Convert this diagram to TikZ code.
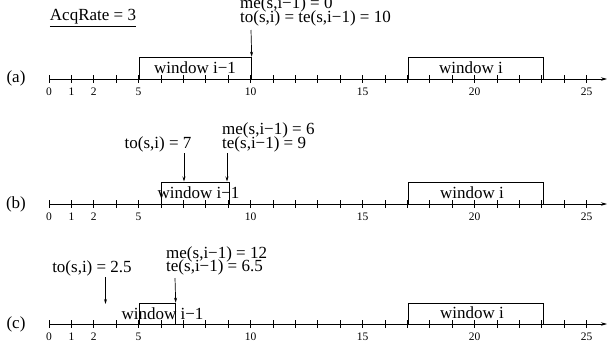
\documentclass[tikz,border=0pt]{standalone}
\usepackage{fontspec}
\setmainfont{Liberation Serif}
\usetikzlibrary{arrows.meta}
\tikzset{
  txt/.style={inner sep=0pt, font=\fontsize{17}{19}\selectfont},
  num/.style={inner sep=0pt, font=\fontsize{11.5}{13}\selectfont},
  axisline/.style={line width=0.7pt, -{Stealth[length=6pt,width=3.5pt]}},
  tickline/.style={line width=0.7pt},
  winbox/.style={draw, line width=0.7pt},
  ptr/.style={line width=0.7pt, -{Stealth[length=5pt,width=3pt]}}
}
\newcommand{\myaxis}[2]{%
  \coordinate (#1s) at (49,#2);
  \coordinate (#1e) at (607,#2);
  \draw[axisline] (#1s) -- (#1e);
  \foreach \k in {0,...,24} {
    \draw[tickline] ({49+22.4*\k},{#2-4}) -- ({49+22.4*\k},{#2+4});
  }
  \foreach \k/\v in {0/0,1/1,2/2,4/5,9/10,14/15,19/20,24/25} {
    \node[num] (#1n\k) at ({49+22.4*\k},{#2+12.5}) {\v};
  }
}
\begin{document}
\begin{tikzpicture}[x=1pt,y=-1pt]
\useasboundingbox (0,0) rectangle (610,349);
% ---------- (a)
\node[txt] (acq) at (93,18) {\underline{AcqRate = 3}};
\node[txt] (la) at (16,78) {(a)};
\myaxis{a}{79}
\node[winbox, minimum width=112pt, minimum height=22.3pt, anchor=north west, inner sep=0pt] (wa1) at (139,56.7) {};
\node[txt] (wa1t) at (195,68) {window i−1};
\node[winbox, minimum width=134.4pt, minimum height=22.3pt, anchor=north west, inner sep=0pt] (wa2) at (408.3,56.7) {};
\node[txt] (wa2t) at (471,67.5) {window i};
\node[txt, anchor=west] (ame) at (240,4.5) {me(s,i−1) = 0};
\node[txt, anchor=west] (ato) at (240,18) {to(s,i) = te(s,i−1) = 10};
\coordinate (aarr) at (251,30);
\draw[ptr] (aarr) -- (wa1.north east);
% ---------- (b)
\node[txt] (lb) at (16,204) {(b)};
\myaxis{b}{204}
\node[winbox, minimum width=67.2pt, minimum height=22.5pt, anchor=north west, inner sep=0pt] (wb1) at (161.4,181.5) {};
\node[txt] (wb1t) at (198.5,192.5) {window i−1};
\node[winbox, minimum width=134.4pt, minimum height=22.5pt, anchor=north west, inner sep=0pt] (wb2) at (408.3,181.5) {};
\node[txt] (wb2t) at (472,192.5) {window i};
\node[txt] (bto) at (158,144) {to(s,i) = 7};
\node[txt, anchor=west] (bme) at (222,130.5) {me(s,i−1) = 6};
\node[txt, anchor=west] (bte) at (222,144) {te(s,i−1) = 9};
\coordinate (bto1) at (184,153);
\coordinate (bto2) at (184,181.5);
\coordinate (bte1) at (227,153);
\coordinate (bte2) at (227,181.5);
\draw[ptr] (bto1) -- (bto2);
\draw[ptr] (bte1) -- (bte2);
% ---------- (c)
\node[txt] (lc) at (16,324) {(c)};
\myaxis{c}{324}
\node[winbox, minimum width=36pt, minimum height=21.3pt, anchor=north west, inner sep=0pt] (wc1) at (139,302.7) {};
\node[txt] (wc1t) at (162.5,313.5) {window i−1};
\node[winbox, minimum width=134.4pt, minimum height=21.3pt, anchor=north west, inner sep=0pt] (wc2) at (408.3,302.7) {};
\node[txt] (wc2t) at (472,313) {window i};
\node[txt] (cto) at (92,268) {to(s,i) = 2.5};
\node[txt, anchor=west] (cme) at (166,254) {me(s,i−1) = 12};
\node[txt, anchor=west] (cte) at (166,267.7) {te(s,i−1) = 6.5};
\coordinate (cto1) at (105.5,277);
\coordinate (cto2) at (105.5,304);
\coordinate (cte1) at (175,278);
\draw[ptr] (cto1) -- (cto2);
\draw[ptr] (cte1) -- (wc1.north east);
\end{tikzpicture}
\end{document}
